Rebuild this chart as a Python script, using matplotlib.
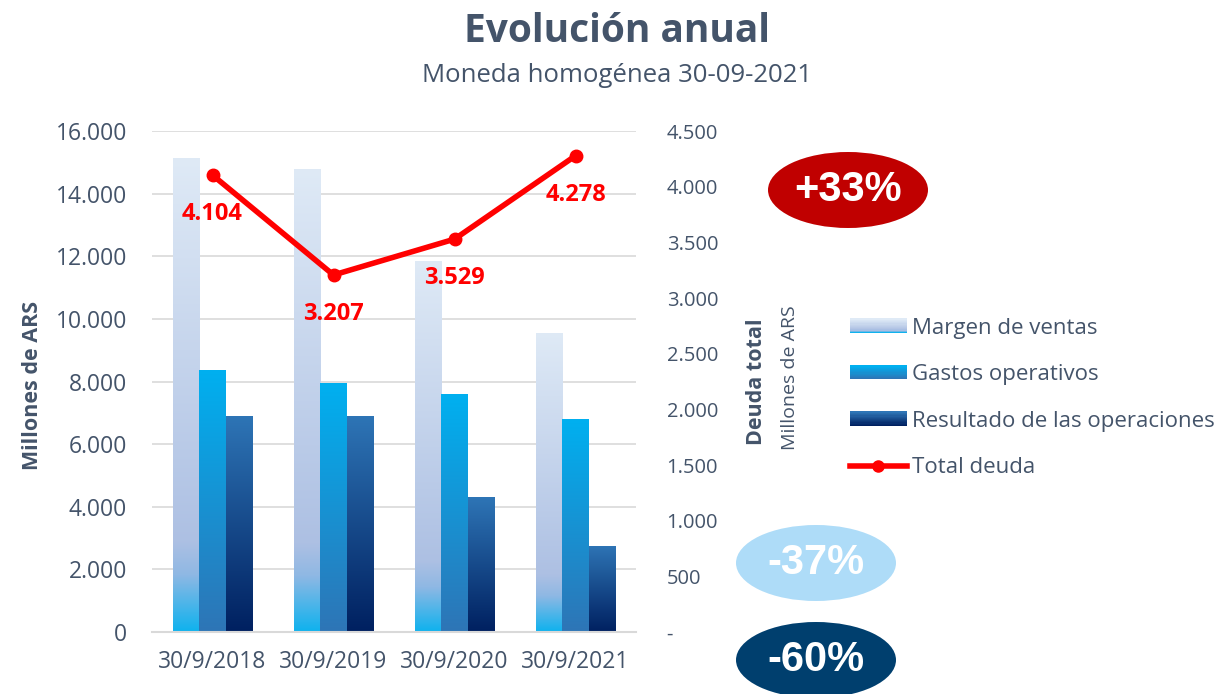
import matplotlib
matplotlib.use("Agg")
import matplotlib.pyplot as plt
import numpy as np
from matplotlib.colors import LinearSegmentedColormap
from matplotlib.patches import Ellipse, Rectangle
from matplotlib.legend_handler import HandlerBase
from matplotlib.lines import Line2D

plt.rcParams['font.family'] = ['Open Sans', 'DejaVu Sans']

# Data
categories = ['30/9/2018', '30/9/2019', '30/9/2020', '30/9/2021']
margen_ventas = [15150, 14800, 11850, 9550]
gastos_operativos = [8370, 7950, 7600, 6800]
resultado_operaciones = [6900, 6900, 4300, 2750]
total_deuda = [4104, 3207, 3529, 4278]
variaciones = ['+33%', '-37%', '-60%']

TXT = '#44546a'
GRID = '#d9d9d9'

cmaps = [
    LinearSegmentedColormap.from_list('margen', [(0.0, '#0fb2ee'), (0.12, '#8fb8e4'),
                                                 (0.19, '#adc0e3'), (1.0, '#dfeaf6')]),
    LinearSegmentedColormap.from_list('gastos', ['#2e75b6', '#00b0f0']),
    LinearSegmentedColormap.from_list('result', ['#002060', '#2e75b6']),
]
labels = ['Margen de ventas', 'Gastos operativos', 'Resultado de las operaciones']

fig = plt.figure(figsize=(12.29, 6.94), dpi=100)
ax = fig.add_axes([0.1237, 0.0893, 0.3938, 0.7219])

x = np.arange(len(categories))
width = 0.22
grad = np.linspace(0, 1, 256).reshape(-1, 1)[::-1]
series = [margen_ventas, gastos_operativos, resultado_operaciones]
for i, vals in enumerate(series):
    bars = ax.bar(x + (i - 1) * width, vals, width, color='none', edgecolor='none', zorder=2)
    for b in bars:
        bx, bw, bh = b.get_x(), b.get_width(), b.get_height()
        im = ax.imshow(grad, cmap=cmaps[i], aspect='auto', extent=[bx, bx + bw, 0, bh],
                       zorder=2, interpolation='bilinear')
        im.set_clip_path(b)

ax.set_xlim(-0.5, 3.5)
ax.set_ylim(0, 16000)
ax.set_yticks(np.arange(0, 16001, 2000))
ax.set_yticklabels([f'{v:,}'.replace(',', '.') for v in range(0, 16001, 2000)])
ax.set_xticks(x)
ax.set_xticklabels(categories)
ax.grid(axis='y', color=GRID, lw=1.2, zorder=0)
ax.set_axisbelow(True)
for s in ['top', 'right', 'left']:
    ax.spines[s].set_visible(False)
ax.spines['bottom'].set_color(GRID)
ax.spines['bottom'].set_linewidth(1.5)
ax.tick_params(axis='y', length=0, pad=18, labelsize=16.5, labelcolor=TXT)
ax.tick_params(axis='x', length=0, pad=13, labelsize=16.5, labelcolor=TXT)

ax2 = ax.twinx()
ax2.plot(x, total_deuda, color='#ff0000', lw=4, marker='o', ms=9, zorder=5)
for xi, v in zip(x, total_deuda):
    ax2.annotate(f'{v:,}'.replace(',', '.'), (xi, v), xytext=(0, -28), textcoords='offset points',
                 ha='center', va='center', color='#ff0000', fontsize=17, fontweight='bold')
ax2.set_ylim(0, 4500)
ticks2 = np.arange(0, 4501, 500)
ax2.set_yticks(ticks2)
ax2.set_yticklabels(['-' if v == 0 else f'{v:,}'.replace(',', '.') for v in ticks2])
for s in ax2.spines.values():
    s.set_visible(False)
ax2.tick_params(axis='y', length=0, pad=22, labelsize=14.5, labelcolor=TXT)
for t in ax2.get_yticklabels():
    t.set_ha('left')

# Axis titles
fig.text(33 / 1229, 1 - 385 / 694, 'Millones de ARS', rotation=90, ha='center', va='center',
         fontsize=15.5, fontweight='bold', color=TXT)
fig.text(757 / 1229, 1 - 382 / 694, 'Deuda total', rotation=90, ha='center', va='center',
         fontsize=15.5, fontweight='bold', color=TXT)
fig.text(790 / 1229, 1 - 378 / 694, 'Millones de ARS', rotation=90, ha='center', va='center',
         fontsize=14, color=TXT)

# Titles
fig.text(617 / 1229, 1 - 32 / 694, 'Evolución anual', ha='center', va='center',
         fontsize=28, fontweight='bold', color=TXT)
fig.text(617 / 1229, 1 - 76 / 694, 'Moneda homogénea 30-09-2021', ha='center', va='center',
         fontsize=18.5, color=TXT)


class GradientHandler(HandlerBase):
    def __init__(self, cmap):
        super().__init__()
        self.cmap = cmap

    def create_artists(self, legend, orig_handle, xdescent, ydescent, width, height, fontsize, trans):
        n = 12
        arts = []
        for k in range(n):
            arts.append(Rectangle((-xdescent, -ydescent + height * k / n), width, height / n + 0.3,
                                  facecolor=self.cmap(k / (n - 1)), edgecolor='none', transform=trans))
        return arts


handles = [Rectangle((0, 0), 1, 1) for _ in range(3)]
line_h = Line2D([], [], color='#ff0000', lw=4, marker='o', ms=8)
hmap = {h: GradientHandler(c) for h, c in zip(handles, cmaps)}
leg = fig.legend(handles + [line_h], labels + ['Total deuda'], handler_map=hmap,
                 loc='center left', bbox_to_anchor=(850 / 1229, 1 - 398 / 694), frameon=False,
                 fontsize=16, handlelength=2.55, handleheight=0.6, handletextpad=0.22,
                 labelspacing=1.15, borderaxespad=0, borderpad=0)
for t in leg.get_texts():
    t.set_color(TXT)

# Variation bubbles
bubbles = [((848, 190), '#c00000'), ((816, 563), '#aedcf8'), ((816, 660), '#003f6e')]
for ((cx, cy), col), txt in zip(bubbles, variaciones):
    fig.add_artist(Ellipse((cx / 1229, 1 - cy / 694), 160 / 1229, 76 / 694,
                           transform=fig.transFigure, facecolor=col, edgecolor='none'))
    fig.text(cx / 1229, 1 - cy / 694, txt, ha='center', va='center', color='white',
             fontsize=30, fontweight='bold', family=['Liberation Sans', 'DejaVu Sans'])

fig.savefig('out.png', dpi=100)
